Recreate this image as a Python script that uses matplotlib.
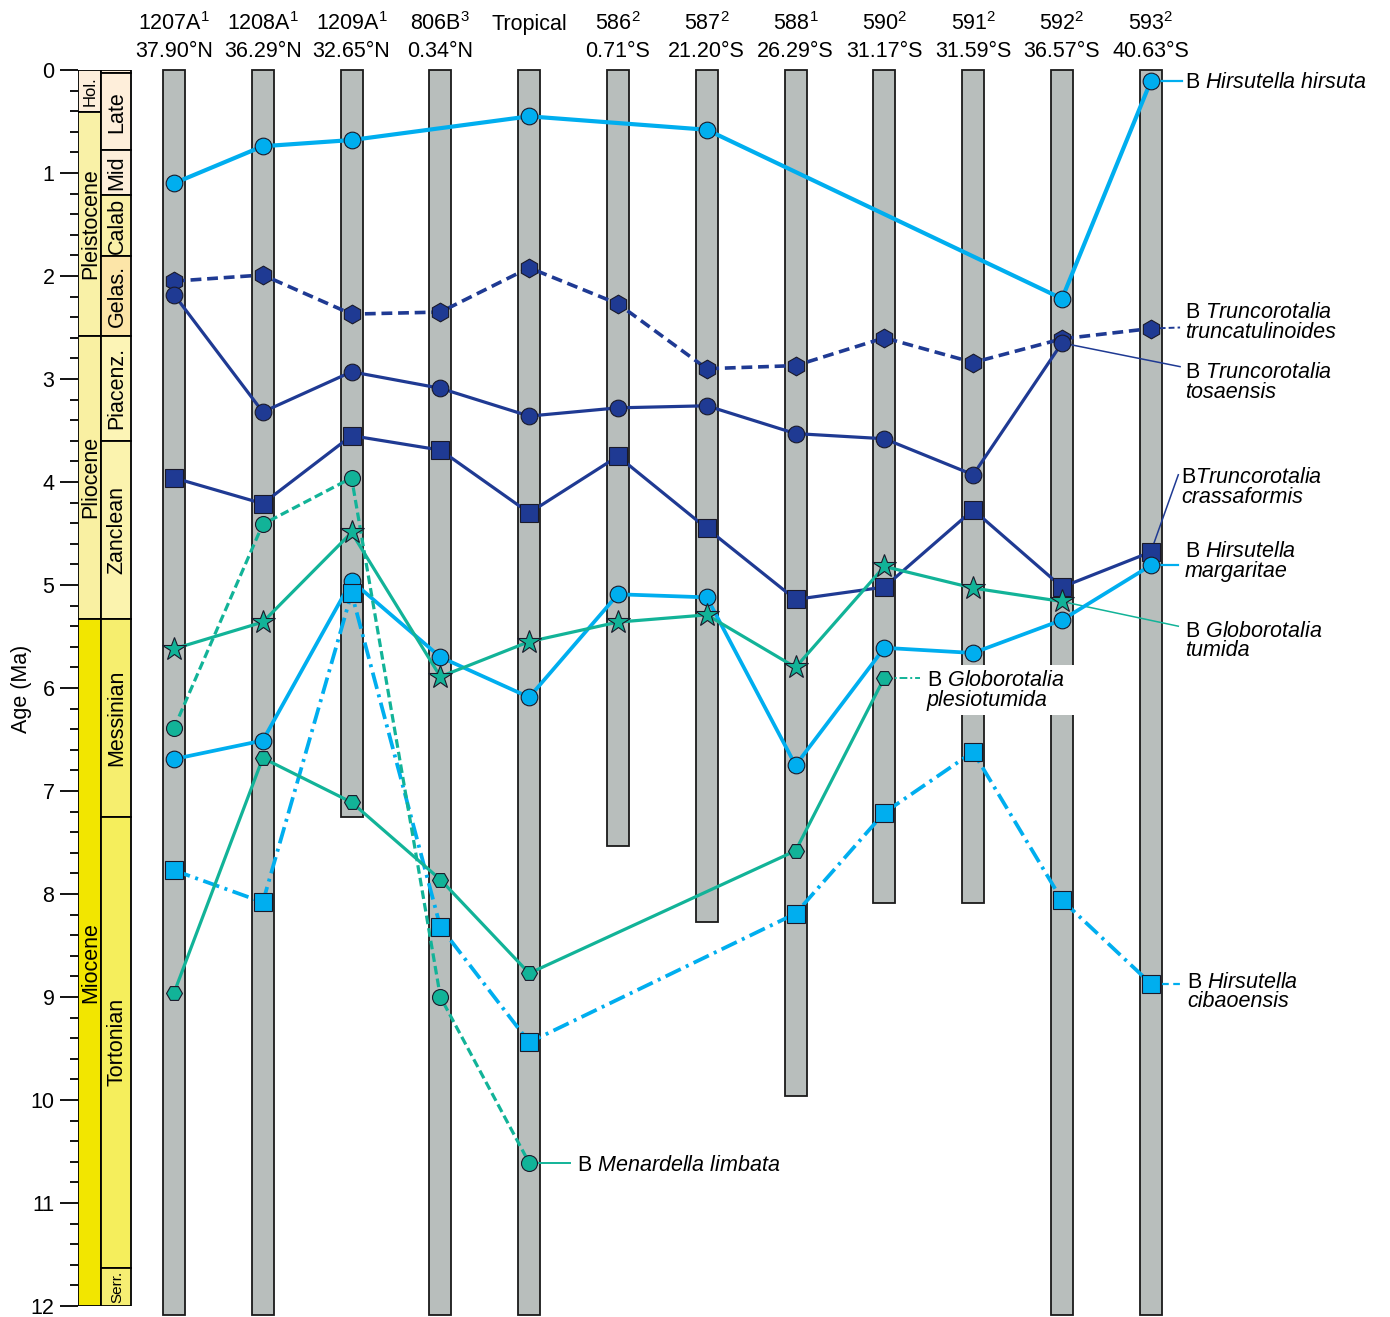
import numpy as np
import matplotlib.pyplot as plt
from matplotlib.patches import Rectangle
from matplotlib.ticker import MultipleLocator

plt.rcParams['font.family'] = 'Liberation Sans'
plt.rcParams['mathtext.fontset'] = 'custom'
plt.rcParams['mathtext.rm'] = 'Liberation Sans'
plt.rcParams['mathtext.it'] = 'Liberation Sans:italic'

nan = np.nan

# sites (columns)
sites = ["1207A", "1208A", "1209A", "806B", "Tropical", "586", "587", "588", "590", "591", "592", "593"]
site_sup = ["1", "1", "1", "3", "", "2", "2", "1", "2", "2", "2", "2"]
site_lat = ["37.90°N", "36.29°N", "32.65°N", "0.34°N", "", "0.71°S", "21.20°S",
            "26.29°S", "31.17°S", "31.59°S", "36.57°S", "40.63°S"]
site_base = [12.09, 12.09, 7.25, 12.09, 12.09, 7.53, 8.27, 9.96, 8.09, 8.09, 12.09, 12.09]

# bioevent ages (Ma) per site
hirsuta = [1.10, 0.74, 0.68, nan, 0.45, nan, 0.58, nan, nan, nan, 2.22, 0.11]
truncatulinoides = [2.05, 1.99, 2.37, 2.35, 1.92, 2.27, 2.90, 2.87, 2.60, 2.84, 2.61, 2.51]
tosaensis = [2.18, 3.32, 2.93, 3.09, 3.36, 3.28, 3.26, 3.53, 3.58, 3.93, 2.65, nan]
crassaformis = [3.96, 4.21, 3.55, 3.69, 4.30, 3.75, 4.45, 5.14, 5.02, 4.27, 5.02, 4.68]
margaritae = [6.69, 6.51, 4.96, 5.70, 6.09, 5.09, 5.12, 6.75, 5.61, 5.66, 5.34, 4.81]
tumida = [5.62, 5.36, 4.49, 5.89, 5.55, 5.36, 5.29, 5.80, 4.82, 5.03, 5.16, nan]
plesiotumida = [8.96, 6.68, 7.11, 7.86, 8.77, nan, nan, 7.58, 5.90, nan, nan, nan]
limbata = [6.39, 4.41, 3.96, 9.00, 10.61, nan, nan, nan, nan, nan, nan, nan]
cibaoensis = [7.77, 8.08, 5.08, 8.32, 9.44, nan, nan, 8.19, 7.21, 6.62, 8.06, 8.87]

# time scale
epochs = ["Hol.", "Pleistocene", "Pliocene", "Miocene"]
epoch_top = [0.0, 0.41, 2.58, 5.33]
epoch_base = [0.41, 2.58, 5.33, 12.0]
stages = ["", "Late", "Mid", "Calab", "Gelas.", "Piacenz.", "Zanclean", "Messinian", "Tortonian", "Serr."]
stage_top = [0.0, 0.03, 0.78, 1.21, 1.81, 2.58, 3.60, 5.33, 7.25, 11.63]
stage_base = [0.03, 0.78, 1.21, 1.81, 2.58, 3.60, 5.33, 7.25, 11.63, 12.0]

epoch_colors = ["#FDEEDC", "#F9F1A7", "#F9F0A2", "#F2E600"]
stage_colors = ["#FDEBD5", "#FEEEDA", "#FEEEDA", "#FAF0A8", "#FCE5A8",
                "#FCF4B6", "#FBF3AE", "#F6EE6E", "#F5EE5C", "#F6EE73"]

LB = '#00AEEF'
DB = '#1f3a93'
GR = '#12b398'
FS = 15.5

fig = plt.figure(figsize=(13.9, 13.17), dpi=100)
ax = fig.add_axes([78 / 1390, 1 - 1306 / 1317, 1 - 78 / 1390, (1306 - 70) / 1317])
ax.set_xlim(-1.081, 13.694)
ax.set_ylim(12, 0)
for s in ax.spines.values():
    s.set_visible(False)
ax.set_xticks([])
ax.set_yticks(range(13))
ax.yaxis.set_minor_locator(MultipleLocator(0.2))
ax.tick_params(axis='y', which='major', length=13, width=1.3, labelsize=FS, pad=4)
ax.tick_params(axis='y', which='minor', length=5.8, width=1.3)
fig.text(22 / 1390, 1 - 689 / 1317, "Age (Ma)", rotation=90, fontsize=FS, ha='center', va='center')

# time scale columns
ex0, ex1, sx1 = -1.081, -0.822, -0.484
for name, t, b, c in zip(epochs, epoch_top, epoch_base, epoch_colors):
    ax.add_patch(Rectangle((ex0, t), ex1 - ex0, b - t, fc=c, ec='black', lw=1.3, zorder=2))
    ax.text((ex0 + ex1) / 2 + 0.01, (t + b) / 2, name, rotation=90, ha='center', va='center',
            fontsize=12 if name == "Hol." else FS, zorder=3)
for name, t, b, c in zip(stages, stage_top, stage_base, stage_colors):
    ax.add_patch(Rectangle((ex1, t), sx1 - ex1, b - t, fc=c, ec='black', lw=1.3, zorder=2))
    ax.text((ex1 + sx1) / 2 + 0.01, (t + b) / 2, name, rotation=90, ha='center', va='center',
            fontsize=11 if name == "Serr." else FS, zorder=3)

# site columns + headers
for i, (name, sup, lat, base) in enumerate(zip(sites, site_sup, site_lat, site_base)):
    ax.add_patch(Rectangle((i - 0.124, 0), 0.248, base, fc='#B8BEBC', ec='#1a1a1a',
                           lw=1.3, zorder=1, clip_on=False))
    head = name + (r"$^{\mathregular{%s}}$" % sup if sup else "")
    ax.text(i, -0.388, head, ha='center', va='baseline', fontsize=FS, clip_on=False)
    if lat:
        ax.text(i, -0.126, lat, ha='center', va='baseline', fontsize=FS, clip_on=False)


def draw(vals, color, marker, ms, lw, ls='-'):
    v = np.array(vals)
    x = np.arange(len(v))
    ok = ~np.isnan(v)
    ax.plot(x[ok], v[ok], color=color, lw=lw, ls=ls, zorder=4, clip_on=False)
    ax.plot(x[ok], v[ok], ls='none', marker=marker, ms=ms, mfc=color, mec='#1a1a2a',
            mew=0.8, zorder=5, clip_on=False)


draw(truncatulinoides, DB, 'h', 13.5, 2.6, (0, (3, 1.6)))
draw(tosaensis, DB, 'o', 12, 2.3)
draw(crassaformis, DB, 's', 12.5, 2.3)
draw(margaritae, LB, 'o', 12, 2.7)
draw(cibaoensis, LB, 's', 12.5, 2.7, (0, (4.5, 1.5, 0.8, 1.5)))
draw(plesiotumida, GR, 'H', 11.5, 2.3)
draw(limbata, GR, 'o', 11.5, 2.3, (0, (2.7, 1.3)))
draw(tumida, GR, '*', 17.5, 2.3)
draw(hirsuta, LB, 'o', 12, 3.0)


def label(vals, site, end, tx, base1, lines, color, lw=1.3, ls='-', box=None):
    ax.plot([site, end[0]], [vals[site], end[1]], color=color, lw=lw, ls=ls, zorder=3.5)
    if box is not None:
        ax.add_patch(Rectangle((box[0], box[1]), box[2], box[3], fc='white', ec='none', zorder=3))
    ax.text(tx, base1, lines[0], fontsize=FS, va='baseline', ha='left', zorder=6)
    if len(lines) > 1:
        ax.text(tx, base1 + 0.19, lines[1], fontsize=FS, va='baseline', ha='left',
                style='italic', zorder=6)


label(hirsuta, 11, (11.35, 0.11), 11.38, 0.175, [r"B $\mathit{Hirsutella\ hirsuta}$"], LB, lw=1.6)
label(truncatulinoides, 11, (11.33, 2.50), 11.38, 2.41,
      [r"B $\mathit{Truncorotalia}$", "truncatulinoides"], DB, lw=1.4, ls=(0, (3, 1.6)))
label(tosaensis, 10, (11.33, 2.88), 11.38, 2.99,
      [r"B $\mathit{Truncorotalia}$", "tosaensis"], DB, lw=1.1)
label(crassaformis, 11, (11.31, 3.93), 11.34, 4.01,
      [r"B$\mathit{Truncorotalia}$", "crassaformis"], DB, lw=1.1)
label(margaritae, 11, (11.31, 4.81), 11.38, 4.73,
      [r"B $\mathit{Hirsutella}$", "margaritae"], LB, lw=1.6)
label(tumida, 10, (11.31, 5.40), 11.38, 5.50,
      [r"B $\mathit{Globorotalia}$", "tumida"], GR, lw=1.1)
label(plesiotumida, 8, (8.40, 5.90), 8.48, 5.98,
      [r"B $\mathit{Globorotalia}$", "plesiotumida"], GR, lw=1.4, ls=(0, (4, 1.5, 1, 1.5)),
      box=(8.457, 5.78, 1.745, 0.48))
label(limbata, 4, (4.46, 10.61), 4.54, 10.69, [r"B $\mathit{Menardella\ limbata}$"], GR, lw=1.4)
label(cibaoensis, 11, (11.33, 8.87), 11.41, 8.91,
      [r"B $\mathit{Hirsutella}$", "cibaoensis"], LB, lw=1.6, ls=(0, (3, 2)))

plt.savefig('out.png', dpi=100)
